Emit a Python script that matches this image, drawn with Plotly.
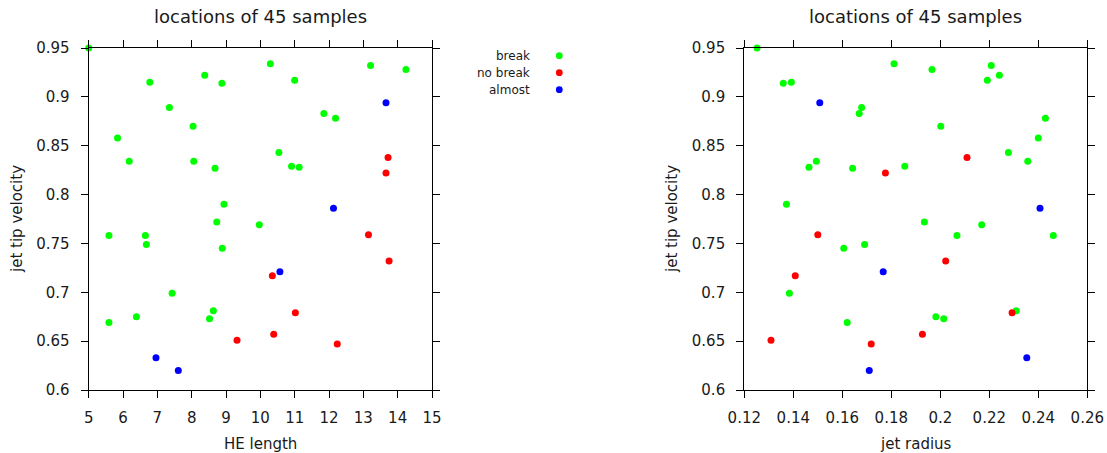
import plotly.graph_objects as go

# ---- data ----
break_he = [5.0, 6.78, 8.38, 8.88, 7.35, 8.04, 5.84, 6.18, 8.06, 8.68, 8.94,
            10.29, 13.21, 14.24, 11.0, 11.85, 12.19, 10.54, 10.91, 11.13,
            8.73, 9.97, 5.59, 6.65, 6.68, 8.89, 7.43, 8.63, 8.52, 6.39, 5.59]
break_vel = [0.950, 0.915, 0.922, 0.914, 0.889, 0.870, 0.858, 0.834, 0.834, 0.827, 0.790,
             0.934, 0.932, 0.928, 0.917, 0.883, 0.878, 0.843, 0.829, 0.828,
             0.772, 0.769, 0.758, 0.758, 0.749, 0.745, 0.699, 0.681, 0.673, 0.675, 0.669]
break_rad = [0.1252, 0.1392, 0.2241, 0.1359, 0.1679, 0.2002, 0.2400, 0.1494, 0.2357, 0.1642, 0.1372,
             0.1811, 0.2208, 0.1966, 0.2192, 0.1669, 0.2429, 0.2278, 0.1855, 0.1464,
             0.1935, 0.2169, 0.2068, 0.2461, 0.1691, 0.1606, 0.1384, 0.2310, 0.2014, 0.1982, 0.1620]

nobreak_he = [13.72, 13.66, 9.32, 13.15, 13.75, 10.35, 11.02, 10.39, 12.24]
nobreak_vel = [0.838, 0.822, 0.651, 0.759, 0.732, 0.717, 0.679, 0.657, 0.647]
nobreak_rad = [0.2109, 0.1776, 0.1309, 0.1500, 0.2022, 0.1408, 0.2293, 0.1927, 0.1718]

almost_he = [13.66, 12.13, 6.96, 7.61, 10.57]
almost_vel = [0.894, 0.786, 0.633, 0.620, 0.721]
almost_rad = [0.1508, 0.2407, 0.2353, 0.1710, 0.1767]

series_names = ["break", "no break", "almost"]
series_colors = ["#00ff00", "#ff0000", "#0000ff"]

x1_ticks = [5, 6, 7, 8, 9, 10, 11, 12, 13, 14, 15]
x1_ticktext = ["5", "6", "7", "8", "9", "10", "11", "12", "13", "14", "15"]
x2_ticks = [0.12, 0.14, 0.16, 0.18, 0.20, 0.22, 0.24, 0.26]
x2_ticktext = ["0.12", "0.14", "0.16", "0.18", "0.2", "0.22", "0.24", "0.26"]
y_ticks = [0.6, 0.65, 0.7, 0.75, 0.8, 0.85, 0.9, 0.95]
y_ticktext = ["0.6", "0.65", "0.7", "0.75", "0.8", "0.85", "0.9", "0.95"]

title_text = "locations of 45 samples"

W, H = 1107, 453
FONT = "DejaVu Sans"

fig = go.Figure()

groups = [
    (break_he, break_rad, break_vel),
    (nobreak_he, nobreak_rad, nobreak_vel),
    (almost_he, almost_rad, almost_vel),
]
for (he, rad, vel), name, col in zip(groups, series_names, series_colors):
    fig.add_trace(go.Scatter(x=he, y=vel, mode="markers", name=name,
                             marker=dict(color=col, size=7, line=dict(width=0)),
                             xaxis="x", yaxis="y", showlegend=False, cliponaxis=False))
    fig.add_trace(go.Scatter(x=rad, y=vel, mode="markers", name=name,
                             marker=dict(color=col, size=7, line=dict(width=0)),
                             xaxis="x2", yaxis="y2", showlegend=False, cliponaxis=False))

# pixel layout
L1, R1 = 88.7, 432.0
L2, R2 = 744.3, 1087.3
TOP, BOT = 48.0, 390.0

def px(x):
    return x / W

def py(y):
    return 1 - y / H

axis_common = dict(showline=True, linecolor="#000000", linewidth=1.2, mirror="ticks",
                   ticks="outside", ticklen=7, tickwidth=1, tickcolor="#000000",
                   showgrid=False, zeroline=False, automargin=False,
                   tickfont=dict(family=FONT, size=15, color="#1a1a1a"))

fig.update_layout(
    template="none",
    width=W, height=H,
    margin=dict(l=0, r=0, t=0, b=0, pad=0),
    paper_bgcolor="white", plot_bgcolor="white",
    showlegend=False,
    font=dict(family=FONT, color="#1a1a1a"),
    xaxis=dict(domain=[px(L1), px(R1)], range=[5, 15], tickvals=x1_ticks, ticktext=x1_ticktext,
               anchor="y", ticklabelstandoff=7, **axis_common),
    yaxis=dict(domain=[py(BOT), py(TOP)], range=[0.6, 0.95], tickvals=y_ticks, ticktext=y_ticktext,
               anchor="x", ticklabelstandoff=8, **axis_common),
    xaxis2=dict(domain=[px(L2), px(R2)], range=[0.12, 0.26], tickvals=x2_ticks, ticktext=x2_ticktext,
                anchor="y2", ticklabelstandoff=7, **axis_common),
    yaxis2=dict(domain=[py(BOT), py(TOP)], range=[0.6, 0.95], tickvals=y_ticks, ticktext=y_ticktext,
                anchor="x2", ticklabelstandoff=8, **axis_common),
)

annotations = []
for l, r in [(L1, R1), (L2, R2)]:
    annotations.append(dict(text=title_text, x=px((l + r) / 2), y=py(17), xref="paper", yref="paper",
                            xanchor="center", yanchor="middle", showarrow=False,
                            font=dict(family=FONT, size=18, color="#1a1a1a")))
annotations.append(dict(text="HE length", x=px((L1 + R1) / 2), y=py(444), xref="paper", yref="paper",
                        xanchor="center", yanchor="middle", showarrow=False,
                        font=dict(family=FONT, size=15, color="#1a1a1a")))
annotations.append(dict(text="jet radius", x=px((L2 + R2) / 2), y=py(444), xref="paper", yref="paper",
                        xanchor="center", yanchor="middle", showarrow=False,
                        font=dict(family=FONT, size=15, color="#1a1a1a")))
for xc in [17, 672]:
    annotations.append(dict(text="jet tip velocity", x=px(xc), y=py((TOP + BOT) / 2), xref="paper", yref="paper",
                            xanchor="center", yanchor="middle", showarrow=False, textangle=-90,
                            font=dict(family=FONT, size=15, color="#1a1a1a")))

# legend (text right-aligned, marker to the right)
shapes = []
for i, (name, col) in enumerate(zip(series_names, series_colors)):
    yy = 55.7 + 17 * i
    annotations.append(dict(text=name, x=px(531.7), y=py(yy), xref="paper", yref="paper",
                            xanchor="right", yanchor="middle", showarrow=False,
                            font=dict(family=FONT, size=12, color="#1a1a1a")))
    shapes.append(dict(type="circle", xref="paper", yref="paper",
                       xsizemode="pixel", ysizemode="pixel",
                       xanchor=px(559.3), yanchor=py(yy),
                       x0=-3.4, x1=3.4, y0=-3.4, y1=3.4,
                       fillcolor=col, line=dict(width=0)))

fig.update_layout(annotations=annotations, shapes=shapes)

fig.write_html("out.html")
